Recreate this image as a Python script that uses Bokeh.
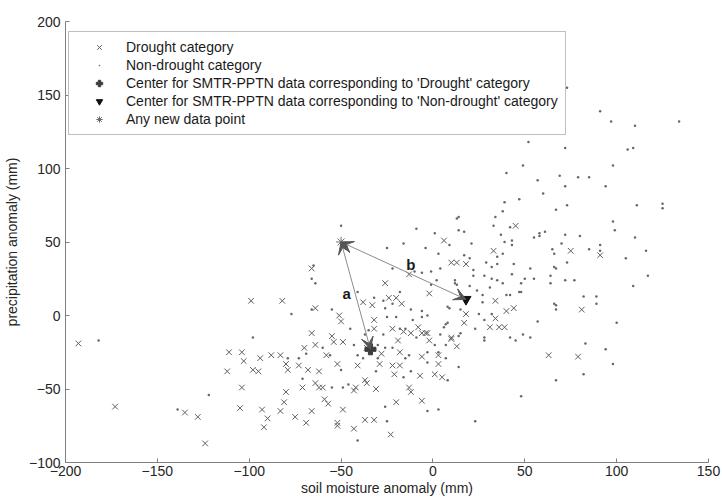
from bokeh.plotting import figure
from bokeh.models import Legend, LegendItem, Arrow, VeeHead, FixedTicker, Range1d
from bokeh.core.properties import value
from bokeh.embed import file_html
from bokeh.resources import INLINE

# ---- data (soil moisture anomaly, precipitation anomaly), mm ----
drought_x = [-66, -99, -82, -64, -51, -50, -38, -33, -26, -24, -20, -17, -32, -32, -66, -64, -70, -55, -54,
             -58, -52, -49, -41, -36, -28, -29, -22, -18, -21, -37, -36, -42, -43, -31, -62, -60, -64, -71,
             -80, -59, -57, -81, -66, -49, -75, -69, -52, -52, -37, -32, -43, -23, -83, -93, -90, -92, -105,
             -104, -112, -111, -104, -103, -94, -88, -83, -80, -79, -98, -95, -73, -68, -62, -128, -124, -18,
             -19, -22, -16, -12, -6, -4, -3, -8, -2, 3, -6, 3, 1, -7, -13, -12, -6, -20, 10, 13, 6, 10, 13,
             18, -13, -2, 5, -193, -173, -135, 45, 33, 75, 91, 34, 40, 44, 18, 17, 34, 31, 36, 39, 81, 10,
             63, 79]
drought_y = [32, 10, 10, 5, 0, -4, 9, 7, 22, 12, 12, 8, -3, -9, -12, -20, -22, -14, -18, -27, -33, -18,
             -34, -22, -26, -33, -34, -34, -40, -44, -46, -49, -51, -50, -49, -49, -46, -49, -52, -57, -60,
             -59, -65, -64, -69, -73, -73, -75, -71, -71, -77, -81, -65, -64, -70, -76, -63, -49, -38, -25,
             -25, -31, -29, -27, -27, -33, -37, -37, -38, -34, -37, -38, -69, -87, -25, -17, -9, -11, -12,
             -12, -12, -12, -8, -17, -27, -28, -33, -40, -41, -49, -52, -58, -59, -15, -21, 51, 36, 36, 35,
             28, 15, -42, -19, -62, -66, 61, 44, 44, 41, 10, 3, 5, 1, -5, -2, -8, -8, -8, 4, -16,
             -27, -28]

nondrought_x = [-182, -122, -139, -98, -77, -79, -66, -64, -69, -65, -50, -66, -55, -45, -35, -43, -41, -38,
                -30, -26, -27, -26, -25, -20, -18, -15, -25, -16, -9, 1, 3, -4, -22, -10, -6, -1, -1, 2, 4,
                12, 14, -12, -6, -3, -11, -6, 9, 8, 7, 4, 1, 3, 7, 8, 3, -3, -25, -41, -50, -49, -46, -55,
                -71, -73, -56, -60, -26, -16, -13, -12, -22, -15, -3, -3, 7, 14, 14, -18, -27, -22, -32, -41,
                -37, -9, -30, -31,
                73, 91, 97, 110, 134, 106, 109, 52, 72, 98, 49, 40, 57, 69, 79, 85, 72, 94, 60, 47, 39, 38,
                34, 67, 73, 111, 125, 125, 98, 99, 110, 116, 117, 109, 100, 13, 14, 17, 33, 38, 42, 37, 39,
                43, 43, 55, 58, 58, 61, 72, 80, 70, 65, 66, 85, 91, 91, 105, 73, 66, 67, 64, 72, 77, 64, 53,
                55, 50, 48, 43, 44, 48, 57, 53, 66, 67, 67, 82, 89, 89, 83, 35, 35, 29, 32, 28, 32, 35, 38,
                31, 27, 22, 22, 20, 17, 21, 9, 13, 12, 20, 24, 47, 40, 42, 27, 25, 28, 32, 23, 28, 28, 42,
                45, 49, 15, 8, 6, 15,
                82, 67, 48, 23, 98, 94]
nondrought_y = [-17, -54, -64, -15, 1, -29, 25, 22, -26, 34, 61, 4, 4, -9, -10, -20, -27, -29, -20, -22,
                -13, 5, -1, -1, -9, -9, 46, 49, 59, 56, 42, 46, 32, 30, 29, 30, 21, 24, 32, 24, 67, 4, 3, 0,
                -3, -1, 5, -5, -6, -13, -20, -25, -29, -44, -64, -65, -72, -85, -37, -49, -47, -49, -43, -29,
                -27, -22, -62, -42, -27, -38, -22, -29, -25, -32, -20, -14, -35, 16, 10, 8, 12, 16, -13, -15,
                -29, -38,
                155, 139, 132, 129, 132, 113, 114, 118, 114, 102, 102, 97, 92, 95, 94, 94, 88, 88, 83, 79,
                77, 71, 67, 72, 75, 75, 76, 73, 64, 58, 53, 44, 27, 20, -5, 66, 58, 57, 61, 42, 60, 55, 50,
                51, 48, 53, 56, 54, 57, 55, 54, 49, 45, 42, 45, 48, 44, 39, 36, 33, 32, 27, 24, 24, 22, 32,
                25, 25, 22, 28, 35, 16, -4, -15, 8, 7, 4, 13, 13, 8, -19, 35, 40, 36, 33, 27, 25, 24, 22,
                19, 14, 27, 31, 39, 41, 49, 48, 21, 22, 20, 17, 16, 14, 14, 9, 1, -3, 1, -9, -15, -17, -15,
                -17, -13, 4, 6, -8, -12,
                -40, -44, -55, -72, -33, -23]

drought_center_x = [-34]
drought_center_y = [-23]
nondrought_center_x = [18]
nondrought_center_y = [11]
new_point_x = [-50]
new_point_y = [50]

x_ticks = [-200, -150, -100, -50, 0, 50, 100, 150]
y_ticks = [-100, -50, 0, 50, 100, 150, 200]

label_names = ["a", "b"]
label_x = [-47, -12]
label_y = [15, 35]

FONT = "Liberation Sans"

p = figure(width=722, height=499, output_backend="svg", toolbar_location=None,
           x_range=Range1d(-200, 150), y_range=Range1d(-100, 200),
           min_border_left=63, min_border_right=14, min_border_top=21, min_border_bottom=37)
p.outline_line_color = None
p.grid.visible = False
p.background_fill_color = "white"
p.border_fill_color = "white"

for ax in (p.xaxis[0], p.yaxis[0]):
    ax.axis_line_color = "#808080"
    ax.major_tick_line_color = "#808080"
    ax.major_tick_in = 4
    ax.major_tick_out = 0
    ax.minor_tick_line_color = None
    ax.major_label_text_font = FONT
    ax.major_label_text_font_size = "14px"
    ax.major_label_text_color = "#262626"
    ax.axis_label_text_font = FONT
    ax.axis_label_text_font_size = "14px"
    ax.axis_label_text_font_style = "normal"
    ax.axis_label_text_color = "#262626"

p.xaxis.ticker = FixedTicker(ticks=x_ticks)
p.yaxis.ticker = FixedTicker(ticks=y_ticks)
p.xaxis.axis_label = "soil moisture anomaly (mm)"
p.yaxis.axis_label = "precipitation anomaly (mm)"
p.xaxis.major_label_standoff = 3
p.xaxis.axis_label_standoff = 1
p.yaxis.major_label_standoff = 5
p.yaxis.axis_label_standoff = 6

r_drought = p.scatter(drought_x, drought_y, marker="x", size=8, line_color="#5f5f5f", line_width=1)
r_non = p.scatter(nondrought_x, nondrought_y, marker="dot", size=10, line_color="#666666")

# arrows between the new point and each centre
for cx, cy in ((drought_center_x[0], drought_center_y[0]), (nondrought_center_x[0], nondrought_center_y[0])):
    p.add_layout(Arrow(x_start=new_point_x[0], y_start=new_point_y[0], x_end=cx, y_end=cy,
                       line_color="#8c8c8c", line_width=1,
                       start=VeeHead(size=12, fill_color="#555555", line_color="#555555"),
                       end=VeeHead(size=12, fill_color="#555555", line_color="#555555")))

r_dc = p.scatter(drought_center_x, drought_center_y, marker="plus", size=11,
                 fill_color="#3c3c3c", line_color="#3c3c3c")
r_nc = p.scatter(nondrought_center_x, nondrought_center_y, marker="inverted_triangle", size=10,
                 fill_color="#111111", line_color="#111111")
r_new = p.scatter(new_point_x, new_point_y, marker="asterisk", size=10, line_color="#6a6a6a", line_width=1)

p.text(label_x, label_y, text=label_names, text_font=value(FONT), text_font_size="15px",
       text_font_style="bold", text_align="center", text_baseline="middle", text_color="#1a1a1a")

legend = Legend(items=[
    LegendItem(label="Drought category", renderers=[r_drought]),
    LegendItem(label="Non-drought category", renderers=[r_non]),
    LegendItem(label="Center for SMTR-PPTN data corresponding to 'Drought' category", renderers=[r_dc]),
    LegendItem(label="Center for SMTR-PPTN data corresponding to 'Non-drought' category", renderers=[r_nc]),
    LegendItem(label="Any new data point", renderers=[r_new]),
], location=(3, 327))
legend.label_text_font = FONT
legend.label_text_font_size = "14px"
legend.label_text_color = "#1a1a1a"
legend.glyph_width = 46
legend.glyph_height = 16
legend.label_height = 16
legend.spacing = 2
legend.padding = 7
legend.label_standoff = 4
legend.border_line_color = "#808080"
legend.border_line_width = 1
legend.background_fill_alpha = 1.0
legend.margin = 0
p.add_layout(legend)

open("out.html", "w").write(file_html(p, INLINE))
